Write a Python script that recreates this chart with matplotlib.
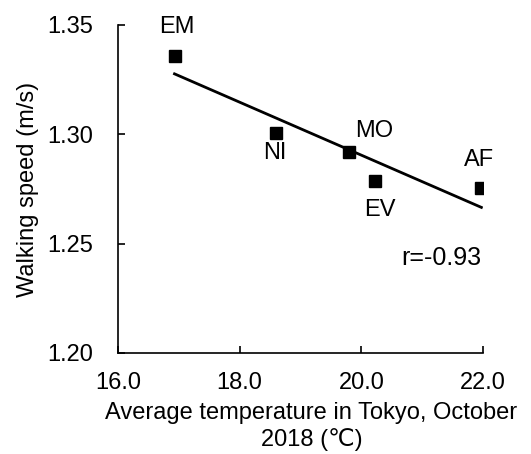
import numpy as np
import matplotlib.pyplot as plt

plt.rcParams['font.family'] = ['Liberation Sans', 'DejaVu Sans']

# periods of the day and their values
periods = ['EM', 'NI', 'MO', 'EV', 'AF']
temperature = [16.93, 18.60, 19.80, 20.22, 21.97]
speed = [1.336, 1.3005, 1.2917, 1.2785, 1.2756]
r_value = -0.93

fig = plt.figure(figsize=(5.31, 4.54), dpi=100)
ax = fig.add_axes([0.222, 0.2225, 0.688, 0.7225])

ax.plot(temperature, speed, 's', color='black', markersize=8.5, zorder=3)

# linear trend
k, b = np.polyfit(temperature, speed, 1)
xs = np.array([min(temperature), max(temperature)])
ax.plot(xs, k * xs + b, color='black', linewidth=2)

# label offsets (points) and vertical alignment for each point label
offsets = [(1.5, 16.3), (-1, -6.5), (18, 11), (3.5, -12.5), (-2, 15.6)]
valign = ['baseline', 'top', 'baseline', 'top', 'baseline']
for name, x, y, off, va in zip(periods, temperature, speed, offsets, valign):
    ax.annotate(name, (x, y), xytext=off, textcoords='offset points',
                ha='center', va=va, fontsize=17)

ax.text(21.97, 1.2436, 'r=%.2f' % r_value, ha='right', va='center', fontsize=18)

ax.set_xlim(16.0, 22.0)
ax.set_ylim(1.20, 1.35)
ax.set_xticks([16.0, 18.0, 20.0, 22.0])
ax.set_yticks([1.20, 1.25, 1.30, 1.35])
ax.set_xticklabels(['16.0', '18.0', '20.0', '22.0'])
ax.set_yticklabels(['1.20', '1.25', '1.30', '1.35'])
ax.tick_params(direction='in', length=5, width=1.2, labelsize=17)
ax.tick_params(axis='y', pad=18)
ax.tick_params(axis='x', pad=14)

for s in ['top', 'right']:
    ax.spines[s].set_visible(False)
for s in ['left', 'bottom']:
    ax.spines[s].set_linewidth(1.2)

ax.set_ylabel('Walking speed (m/s)', fontsize=17)
ax.yaxis.set_label_coords(-0.215, 0.5)
ax.set_xlabel('Average temperature in Tokyo, October\n2018 (℃)', fontsize=17,
              linespacing=1.27)
ax.xaxis.set_label_coords(0.53, -0.148)
ax.xaxis.label.set_va('top')

fig.savefig('out.png', dpi=100)
